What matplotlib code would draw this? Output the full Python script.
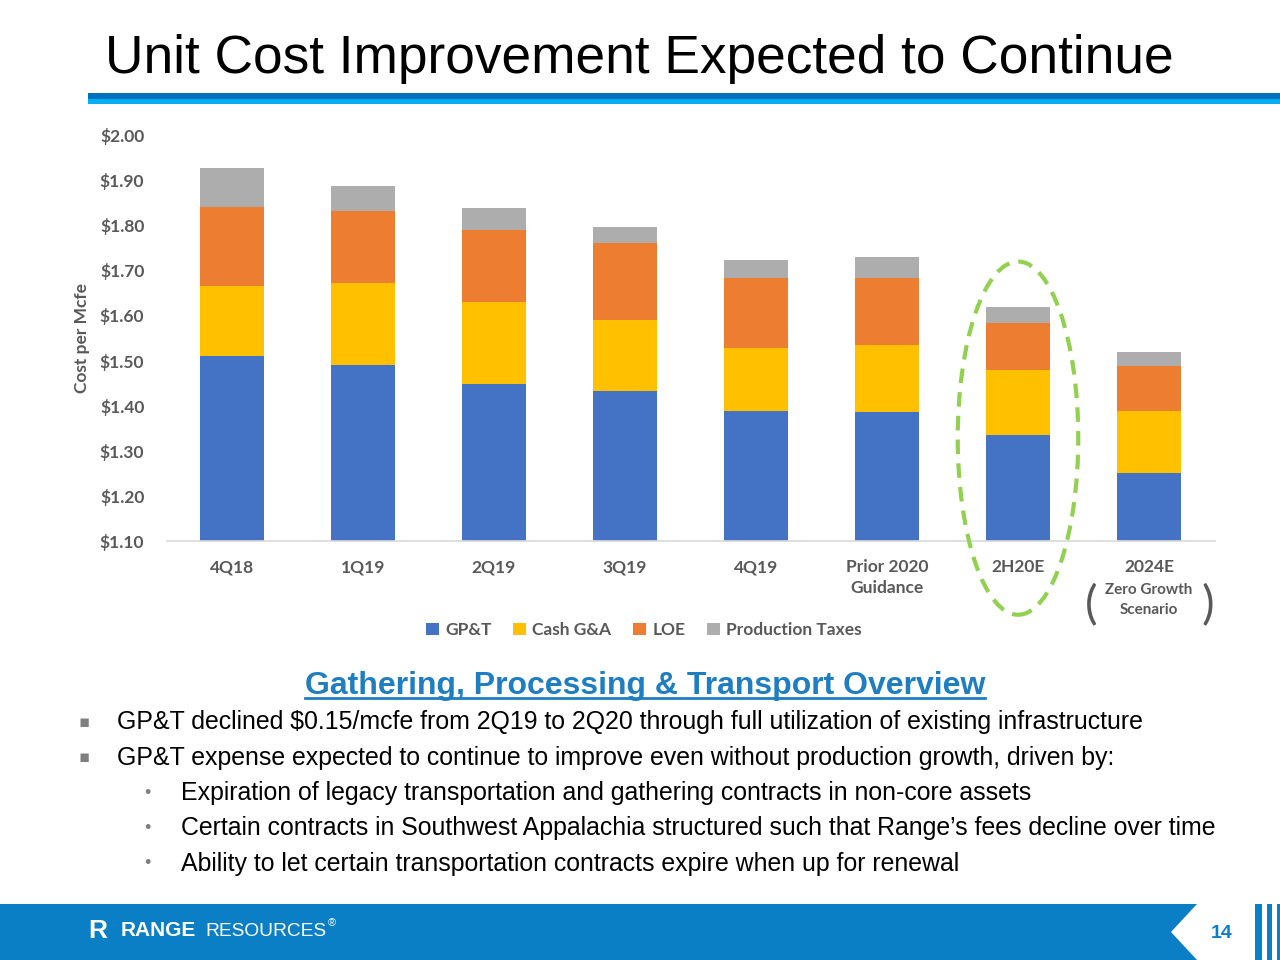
import numpy as np
import matplotlib
matplotlib.use('Agg')
import matplotlib.pyplot as plt
from matplotlib import font_manager
from matplotlib.patches import Rectangle, Ellipse, Polygon

# data (cost per Mcfe, stacked components)
categories = ['4Q18', '1Q19', '2Q19', '3Q19', '4Q19', 'Prior 2020\nGuidance', '2H20E', '2024E']
gpt = [1.510, 1.490, 1.448, 1.433, 1.388, 1.386, 1.335, 1.251]
cash_ga = [0.155, 0.182, 0.182, 0.157, 0.140, 0.149, 0.144, 0.137]
loe = [0.176, 0.160, 0.160, 0.171, 0.155, 0.148, 0.104, 0.100]
prod_taxes = [0.086, 0.055, 0.048, 0.035, 0.040, 0.047, 0.036, 0.031]
series_names = ['GP&T', 'Cash G&A', 'LOE', 'Production Taxes']
series_colors = ['#4472C4', '#FFC000', '#ED7D31', '#ADADAD']
yticks = [1.10, 1.20, 1.30, 1.40, 1.50, 1.60, 1.70, 1.80, 1.90, 2.00]

bullets = ['GP&T declined $0.15/mcfe from 2Q19 to 2Q20 through full utilization of existing infrastructure',
           'GP&T expense expected to continue to improve even without production growth, driven by:']
sub_bullets = ['Expiration of legacy transportation and gathering contracts in non-core assets',
               'Certain contracts in Southwest Appalachia structured such that Range\u2019s fees decline over time',
               'Ability to let certain transportation contracts expire when up for renewal']

gray = '#595959'
chart_font = 'Lato'
slide_font = ['Liberation Sans', 'DejaVu Sans']
names = set(f.name for f in font_manager.fontManager.ttflist)
narrow_font = 'Liberation Sans Narrow' if 'Liberation Sans Narrow' in names else 'Liberation Sans'
brand_blue = '#0B7FC5'
head_blue = '#1F7EC1'

fig = plt.figure(figsize=(12.8, 9.6), dpi=100, facecolor='w')

# background layer in pixel coords
bg = fig.add_axes([0, 0, 1, 1], zorder=0)
bg.set_xlim(0, 1280)
bg.set_ylim(960, 0)
bg.axis('off')

# title + header bar
bg.text(105, 73, 'Unit Cost Improvement Expected to Continue', fontsize=38.3, family=slide_font,
        color='black', va='baseline', ha='left')
bg.add_patch(Rectangle((88, 93), 1192, 5.5, color='#0070C0', lw=0))
bg.add_patch(Rectangle((88, 98.5), 1192, 5, color='#00B0F0', lw=0))

# chart
ax = fig.add_axes([166.5/1280, 1-541/960, 1048/1280, 406/960], zorder=1)
ax.patch.set_alpha(0)
x = np.arange(len(categories))
w = 0.49
bottom = np.zeros(len(categories))
for vals, name, col in zip([gpt, cash_ga, loe, prod_taxes], series_names, series_colors):
    ax.bar(x, vals, w, bottom=bottom, color=col, label=name, lw=0)
    bottom = bottom + np.array(vals)

ax.set_xlim(-0.5, len(categories) - 0.5)
ax.set_ylim(1.10, 2.00)
ax.set_yticks(yticks)
ax.set_yticklabels(['${:.2f}'.format(v) for v in yticks])
ax.set_xticks(x)
ax.set_xticklabels(categories, linespacing=1.4)
for lab in ax.get_xticklabels() + ax.get_yticklabels():
    lab.set_family(chart_font)
    lab.set_weight('bold')
    lab.set_color(gray)
    lab.set_fontsize(12.5)
ax.tick_params(axis='x', length=0, pad=13)
ax.tick_params(axis='y', length=0, pad=16)
for s in ['top', 'right', 'left']:
    ax.spines[s].set_visible(False)
ax.spines['bottom'].set_color('#D9D9D9')
ax.spines['bottom'].set_linewidth(1.2)
ax.set_ylabel('Cost per Mcfe', family=chart_font, weight='bold', color=gray, fontsize=12.5, labelpad=7)

# 2024E scenario note
xt = ax.get_xaxis_transform()
ax.text(7, -0.145, 'Zero Growth\nScenario', transform=xt, ha='center', va='center', family=chart_font,
        weight='bold', color=gray, fontsize=11, linespacing=1.6)
ax.text(6.555, -0.16, '(', transform=xt, ha='center', va='center', family=chart_font,
        color=gray, fontsize=34)
ax.text(7.45, -0.16, ')', transform=xt, ha='center', va='center', family=chart_font,
        color=gray, fontsize=34)

# green dashed ellipse round 2H20E
ax.add_patch(Ellipse((6, 1.328), 0.92, 0.783, fill=False, ec='#92D050', lw=3,
                     ls=(0, (3.5, 2.2)), clip_on=False, zorder=5))

# legend
ax.legend(loc='center', bbox_to_anchor=(644/1280, 1-630/960), bbox_transform=fig.transFigure,
          ncol=4, frameon=False, handlelength=0.75, handleheight=0.75, handletextpad=0.35,
          columnspacing=1.25, prop={'family': chart_font, 'weight': 'bold', 'size': 12.5},
          labelcolor=gray)

# text section
sub = bg.text(645, 694, 'Gathering, Processing & Transport Overview', fontsize=23, family=narrow_font,
              weight='bold', color=head_blue, ha='center', va='baseline')
for i, t in enumerate(bullets):
    y = 722 + i*35.5
    bg.text(84, y, '\u25aa', fontsize=12, family=['DejaVu Sans'], color='#7F7F7F', ha='center', va='center')
    bg.text(117, y, t, fontsize=17.9, family=slide_font, color='black', ha='left', va='center')
for i, t in enumerate(sub_bullets):
    y = 793 + i*35.5
    bg.text(147, y, '\u2022', fontsize=13, family=slide_font, color='#7F7F7F', ha='center', va='center')
    bg.text(181, y, t, fontsize=17.9, family=slide_font, color='black', ha='left', va='center')

# footer
bg.add_patch(Rectangle((0, 904), 1280, 56, color=brand_blue, lw=0))
bg.text(88, 931, 'R', fontsize=19, family=slide_font, weight='bold', color='w', ha='left', va='center')
bg.text(121, 931, 'RANGE', fontsize=15, family=slide_font, weight='bold', color='w', ha='left', va='center')
res = bg.text(205, 931, 'RESOURCES', fontsize=13.8, family=slide_font, color='w', ha='left', va='center')
bg.add_patch(Polygon([(1197, 904), (1171, 932), (1197, 960), (1255, 960), (1255, 904)],
                     closed=True, color='w', lw=0))
bg.add_patch(Rectangle((1262, 904), 5, 56, color='w', lw=0))
bg.add_patch(Rectangle((1272, 904), 5, 56, color='w', lw=0))
bg.text(1222, 933, '14', fontsize=14, family=slide_font, weight='bold', color=brand_blue,
        ha='center', va='center')

# fit the sub heading to the slide width, then underline it; place the (R) mark
fig.canvas.draw()
inv = bg.transData.inverted()
bb = sub.get_window_extent().transformed(inv)
sub.set_fontsize(23 * 683.0 / (bb.x1 - bb.x0))
fig.canvas.draw()
bb = sub.get_window_extent().transformed(inv)
bg.plot([bb.x0, bb.x1], [697.5, 697.5], color=head_blue, lw=2)
rb = res.get_window_extent().transformed(inv)
bg.text(rb.x1 + 2, 923, '\u00ae', fontsize=8, family=slide_font, color='w', ha='left', va='center')

fig.savefig('out.png', dpi=100, facecolor='w')
